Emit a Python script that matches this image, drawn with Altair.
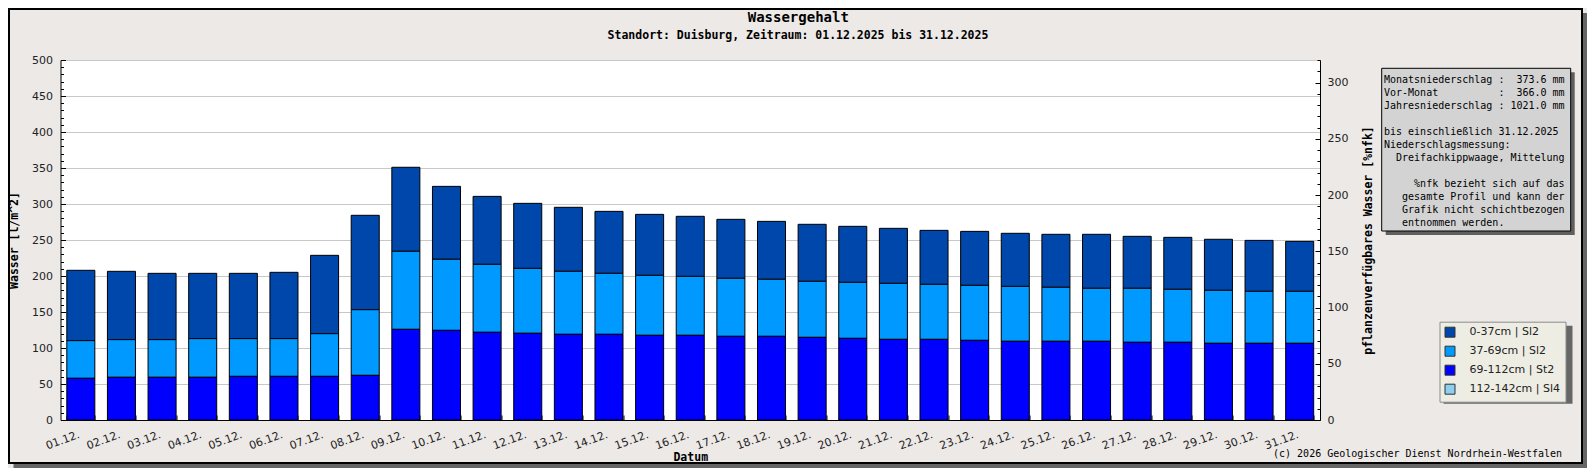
import altair as alt
import pandas as pd

# ---------------- data ----------------
DAYS = ["01.12.", "02.12.", "03.12.", "04.12.", "05.12.", "06.12.", "07.12.", "08.12.",
        "09.12.", "10.12.", "11.12.", "12.12.", "13.12.", "14.12.", "15.12.", "16.12.",
        "17.12.", "18.12.", "19.12.", "20.12.", "21.12.", "22.12.", "23.12.", "24.12.",
        "25.12.", "26.12.", "27.12.", "28.12.", "29.12.", "30.12.", "31.12."]

LAYER_NAMES = ["0-37cm | Sl2", "37-69cm | Sl2", "69-112cm | St2", "112-142cm | Sl4"]
LAYER_COLORS = ["#0047AB", "#0099FF", "#0000FF", "#8CCFEF"]
STACK_RANK = {"69-112cm | St2": 0, "37-69cm | Sl2": 1, "0-37cm | Sl2": 2}

# water content per layer [l/m^2]
L_0_37 = [97.7, 94.9, 92.1, 90.7, 90.7, 92.1, 108.8, 131.1, 116.7, 101.3, 94.4, 90.3, 88.9,
          86.1, 84.7, 83.4, 81.9, 80.5, 79.2, 77.8, 76.4, 75.0, 75.0, 73.7, 73.6, 75.0, 72.2,
          72.2, 70.9, 70.8, 69.4]
L_37_69 = [52.3, 52.3, 52.3, 53.7, 52.4, 52.4, 59.3, 91.2, 108.4, 98.7, 94.4, 90.2, 87.5,
           84.7, 83.3, 81.9, 80.6, 79.2, 77.8, 77.8, 77.8, 76.4, 76.4, 76.3, 75.0, 73.6, 75.0,
           73.6, 73.6, 72.2, 72.2]
L_69_112 = [57.9, 59.3, 59.3, 59.3, 60.6, 60.6, 60.6, 62.0, 125.9, 124.5, 121.8, 120.4, 119.0,
            119.0, 117.6, 117.6, 116.2, 116.2, 114.8, 113.4, 112.0, 112.0, 110.6, 109.3, 109.3,
            109.3, 107.9, 107.9, 106.5, 106.5, 106.5]

Y_LEFT_DOMAIN = [0, 500]
Y_LEFT_TICKS = list(range(0, 501, 10))
Y_RIGHT_DOMAIN = [0, 320]
Y_RIGHT_TICKS = list(range(0, 321, 10))

TITLE = "Wassergehalt"
SUBTITLE = "Standort: Duisburg, Zeitraum: 01.12.2025 bis 31.12.2025"
COPYRIGHT = "(c) 2026 Geologischer Dienst Nordrhein-Westfalen"
INFO_LINES = [
    "Monatsniederschlag :  373.6 mm",
    "Vor-Monat          :  366.0 mm",
    "Jahresniederschlag : 1021.0 mm",
    "",
    "bis einschließlich 31.12.2025",
    "Niederschlagsmessung:",
    "  Dreifachkippwaage, Mittelung",
    "",
    "     %nfk bezieht sich auf das",
    "   gesamte Profil und kann der",
    "   Grafik nicht schichtbezogen",
    "   entnommen werden.",
]

rows = []
for name, vals in [("0-37cm | Sl2", L_0_37), ("37-69cm | Sl2", L_37_69), ("69-112cm | St2", L_69_112)]:
    for d, v in zip(DAYS, vals):
        rows.append({"Datum": d, "Schicht": name, "Wert": v, "Rang": STACK_RANK[name]})
df = pd.DataFrame(rows)
ONE = pd.DataFrame({"k": [0]})

MONO = "DejaVu Sans Mono"
SANS = "DejaVu Sans"
PW, PH = 1259.5, 360
W_TOTAL, H_TOTAL = 1579, 460
PAD_L, PAD_T = 52.5, 52

major50 = "datum.value % 50 === 0"

bars = alt.Chart(df).mark_bar(stroke="black", strokeWidth=1).encode(
    x=alt.X("Datum:N", sort=DAYS,
            scale=alt.Scale(paddingInner=0.31, paddingOuter=0.155),
            axis=alt.Axis(title="Datum", titleFont=MONO, titleFontWeight="bold", titleFontSize=11.5,
                          titleColor="black", titleX=PW / 2, titleY=40.5, titleAlign="center",
                          titleBaseline="alphabetic",
                          labelAngle=340, labelAlign="right", labelBaseline="top",
                          labelFont=SANS, labelFontSize=11, labelColor="#222222",
                          labelPadding=13.5, labelOffset=-4, labelOverlap=False,
                          tickBand="extent", tickSize={"expr": "-5"}, tickColor="black",
                          domainColor="black", grid=False)),
    y=alt.Y("Wert:Q", stack="zero",
            scale=alt.Scale(domain=Y_LEFT_DOMAIN, nice=False),
            axis=alt.Axis(orient="left", values=Y_LEFT_TICKS, title="Wasser [l/m^2]",
                          titleFont=MONO, titleFontWeight="bold", titleFontSize=11.5, titleColor="black",
                          titleX=-46, titleY=PH / 2, titleAngle=270, titleAlign="center",
                          titleBaseline="middle",
                          labelExpr=f"{major50} ? datum.label : ''",
                          labelFont=SANS, labelFontSize=11, labelColor="#222222",
                          labelPadding=13, labelOverlap=False,
                          tickSize={"condition": {"test": major50, "value": -5}, "value": -3},
                          tickColor="black", domainColor="black",
                          grid=True,
                          gridColor={"condition": {"test": major50, "value": "#c8c8c8"},
                                     "value": "transparent"})),
    color=alt.Color("Schicht:N", title=None,
                    scale=alt.Scale(domain=LAYER_NAMES, range=LAYER_COLORS),
                    legend=alt.Legend(orient="none", legendX=1379, legendY=261.7,
                                      fillColor="#EDEDE4", strokeColor="#8C8C8C", padding=5,
                                      symbolType="square", symbolSize=100, symbolStrokeColor="#333333",
                                      symbolStrokeWidth=1, symbolOpacity=1,
                                      labelFont=SANS, labelFontSize=11, labelColor="#222222",
                                      labelOffset=14, rowPadding=4)),
    order=alt.Order("Rang:Q"),
)

nfk_axis = alt.Chart(pd.DataFrame({"nfk": Y_RIGHT_DOMAIN})).mark_point(opacity=0).encode(
    y=alt.Y("nfk:Q", scale=alt.Scale(domain=Y_RIGHT_DOMAIN, nice=False),
            axis=alt.Axis(orient="right", values=Y_RIGHT_TICKS,
                          title="pflanzenverfügbares Wasser [%nfk]",
                          titleFont=MONO, titleFontWeight="bold", titleFontSize=11.5, titleColor="black",
                          titleX=48, titleY=PH / 2, titleAngle=270, titleAlign="center",
                          titleBaseline="middle",
                          labelExpr=f"{major50} ? datum.label : ''",
                          labelFont=SANS, labelFontSize=11, labelColor="#222222",
                          labelPadding=12, labelOverlap=False,
                          tickSize={"condition": {"test": major50, "value": -5}, "value": -3},
                          tickColor="black", domainColor="black", grid=False))
)


def box(x1, x2, y1, y2, **kw):
    return alt.Chart(ONE).mark_rect(**kw).encode(
        x=alt.value(x1), x2=alt.value(x2), y=alt.value(y1), y2=alt.value(y2))


def label(txt, x, y, **kw):
    return alt.Chart(ONE).mark_text(text=txt, **kw).encode(x=alt.value(x), y=alt.value(y))


# frame (plot coords; plot origin at page (60.5, 60))
FR_R = W_TOTAL - PAD_L          # right edge of svg in plot coords
FR_B = H_TOTAL - PAD_T          # bottom edge of svg in plot coords
frame_shadow_r = box(FR_R - 4, FR_R, -47, FR_B, color="#666666")
frame_shadow_b = box(-47, FR_R, FR_B - 4, FR_B, color="#666666")
frame_border = box(-51.5, FR_R - 5, -51, FR_B - 5, fillOpacity=0, stroke="black", strokeWidth=2)

info_shadow = box(1325.2, 1514.2, 12.3, 175, color="#5f5f5f")
info_box = box(1321.2, 1510.2, 8.3, 171, color="#d3d3d3", stroke="black", strokeWidth=1)

CHAR_W = 6.02
info_texts = []
for i, line in enumerate(INFO_LINES):
    if not line.strip():
        continue
    lead = len(line) - len(line.lstrip(" "))
    info_texts.append(label(line.strip().replace(" ", "\u00a0"), 1323.5 + lead * CHAR_W, 15 + 13 * i,
                            align="left", baseline="top", font=MONO, fontSize=10, color="black"))

legend_shadow = box(1383, 1383 + 129, 265.7, 265.7 + 78, color="#666666")

title_t = label(TITLE, 737.8, -38.5, align="center", baseline="alphabetic", font=MONO,
                fontSize=14, fontWeight="bold", color="black")
subtitle_t = label(SUBTITLE, 737.5, -21.5, align="center", baseline="alphabetic", font=MONO,
                   fontSize=11.5, fontWeight="bold", color="black")
copyright_t = label(COPYRIGHT, 1501.5, 397, align="right", baseline="alphabetic", font=MONO,
                    fontSize=10, color="black")

chart = alt.layer(
    frame_shadow_r, frame_shadow_b, frame_border,
    bars, nfk_axis,
    info_shadow, info_box, *info_texts,
    legend_shadow,
    title_t, subtitle_t, copyright_t,
).resolve_scale(y="independent").properties(
    width=PW, height=PH,
    autosize=alt.AutoSizeParams(type="none"),
    padding={"left": PAD_L, "top": PAD_T, "right": W_TOTAL - PAD_L - PW,
             "bottom": H_TOTAL - PAD_T - PH},
    background="#ECE9E7",
).configure_view(fill="white", stroke="transparent")

chart.save("out.html", embed_options={"renderer": "svg", "actions": False})
